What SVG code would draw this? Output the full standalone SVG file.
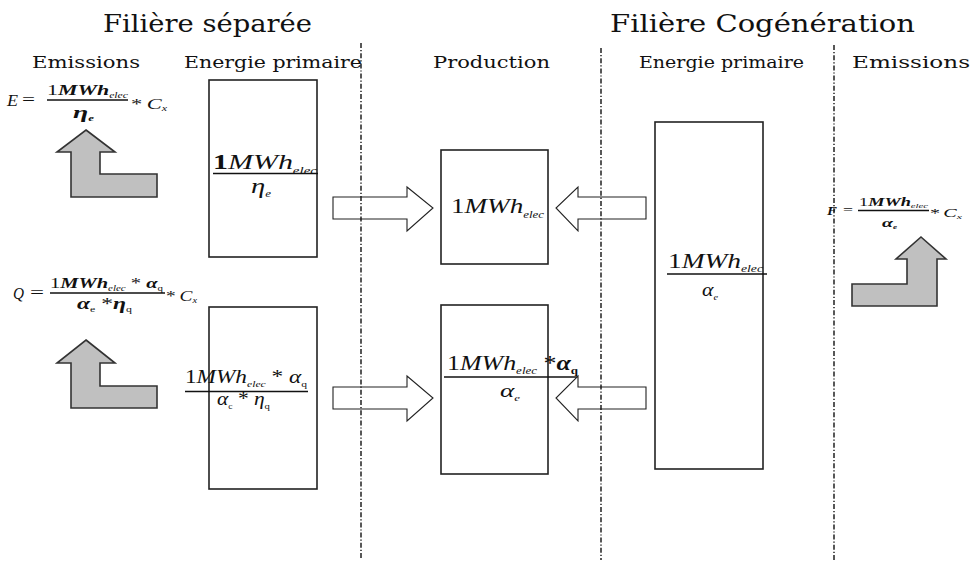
<svg xmlns="http://www.w3.org/2000/svg" width="974" height="563" viewBox="0 0 974 563">
  <style>
    .title { font-family: "DejaVu Serif", "Liberation Serif", serif; font-size: 25px; fill: #111; }
    .head { font-family: "DejaVu Serif", "Liberation Serif", serif; font-size: 17px; fill: #111; }
    .m { font-family: "Liberation Serif", "Times New Roman", serif; fill: #111; }
    .i { font-style: italic; }
    .b { font-weight: bold; }
    .box { fill: #fff; stroke: #222; stroke-width: 1.6; }
    .bar { stroke: #111; stroke-width: 1.3; }
    .sep { stroke: #111; stroke-width: 1.4; stroke-dasharray: 5 2 1.2 2; fill: none; }
    .flow { fill: #fff; stroke: #222; stroke-width: 1.1; stroke-linejoin: miter; }
    .emit { fill: #c0c0c0; stroke: #333; stroke-width: 1.6; }
  </style>

  <!-- column headings -->
  <g id="headings">
    <text class="title" x="103" y="32" textLength="209" lengthAdjust="spacingAndGlyphs">Filière séparée</text>
    <text class="title" x="610" y="32" textLength="305" lengthAdjust="spacingAndGlyphs">Filière Cogénération</text>
    <text class="head" x="32" y="68" textLength="108" lengthAdjust="spacingAndGlyphs">Emissions</text>
    <text class="head" x="184" y="68" textLength="178" lengthAdjust="spacingAndGlyphs">Energie primaire</text>
    <text class="head" x="433" y="68" textLength="117" lengthAdjust="spacingAndGlyphs">Production</text>
    <text class="head" x="639" y="68" textLength="165" lengthAdjust="spacingAndGlyphs">Energie primaire</text>
    <text class="head" x="852" y="68" textLength="118" lengthAdjust="spacingAndGlyphs">Emissions</text>
  </g>

  <!-- separated route: electricity emissions -->
  <g id="emission-E">
    <text class="m i" x="7" y="106" font-size="16" textLength="11" lengthAdjust="spacingAndGlyphs">E</text>
    <text class="m" x="22" y="105" font-size="16" textLength="13" lengthAdjust="spacingAndGlyphs">=</text>
    <text class="m" x="47" y="95" font-size="15" textLength="81" lengthAdjust="spacingAndGlyphs">1<tspan class="i b">MWh</tspan><tspan class="i" font-size="8" dy="3">elec</tspan></text>
    <line class="bar" x1="47" y1="100" x2="128" y2="100"/>
    <text class="m" x="131" y="109" font-size="15" textLength="36" lengthAdjust="spacingAndGlyphs">*<tspan class="i" dx="3">C</tspan><tspan class="i" font-size="8" dy="2">x</tspan></text>
    <text class="m i b" x="73" y="118" font-size="17" textLength="21" lengthAdjust="spacingAndGlyphs">η<tspan font-size="8" dy="3">e</tspan></text>
    <path class="emit" d="M86,130 L115,152 H100 V174 H157 V197 H71 V152 H57 Z"/>
  </g>

  <!-- separated route: heat emissions -->
  <g id="emission-Q">
    <text class="m i" x="13" y="299" font-size="16" textLength="11" lengthAdjust="spacingAndGlyphs">Q</text>
    <text class="m" x="30" y="298" font-size="16" textLength="14" lengthAdjust="spacingAndGlyphs">=</text>
    <text class="m" x="50" y="288" font-size="15" textLength="113" lengthAdjust="spacingAndGlyphs">1<tspan class="i b">MWh</tspan><tspan class="i" font-size="8" dy="3">elec</tspan><tspan dy="-3"> * </tspan><tspan class="i b">α</tspan><tspan font-size="8" dy="3">q</tspan></text>
    <line class="bar" x1="50" y1="293" x2="165" y2="293"/>
    <text class="m" x="166" y="301" font-size="15" textLength="31" lengthAdjust="spacingAndGlyphs">*<tspan class="i" dx="3">C</tspan><tspan class="i" font-size="8" dy="2">x</tspan></text>
    <text class="m" x="77" y="309" font-size="16" textLength="55" lengthAdjust="spacingAndGlyphs"><tspan class="i b">α</tspan><tspan font-size="8" dy="3">e</tspan><tspan dy="-3"> *</tspan><tspan class="i b">η</tspan><tspan font-size="8" dy="3">q</tspan></text>
    <path class="emit" d="M86,340 L115,363 H100 V386 H157 V408 H71 V363 H57 Z"/>
  </g>

  <!-- separated route: primary energy for electricity -->
  <g id="primary-elec">
    <rect class="box" x="209" y="80" width="108" height="177"/>
    <text class="m" x="213" y="169" font-size="22" textLength="104" lengthAdjust="spacingAndGlyphs"><tspan class="b">1</tspan><tspan class="i">MWh</tspan><tspan class="i" font-size="11" dy="5">elec</tspan></text>
    <line class="bar" x1="213" y1="173.5" x2="318" y2="173.5"/>
    <text class="m i" x="251" y="193" font-size="22" textLength="20" lengthAdjust="spacingAndGlyphs">η<tspan font-size="10" dy="4">e</tspan></text>
  </g>

  <!-- separated route: primary energy for heat -->
  <g id="primary-heat">
    <rect class="box" x="209" y="307" width="108" height="182"/>
    <text class="m" x="185" y="383" font-size="18" textLength="122" lengthAdjust="spacingAndGlyphs">1<tspan class="i">MWh</tspan><tspan class="i" font-size="9" dy="4">elec</tspan><tspan dy="-4"> * </tspan><tspan class="i">α</tspan><tspan font-size="9" dy="4">q</tspan></text>
    <line class="bar" x1="185" y1="391.5" x2="308" y2="391.5"/>
    <text class="m" x="217" y="405" font-size="18" textLength="53" lengthAdjust="spacingAndGlyphs"><tspan class="i">α</tspan><tspan font-size="8" dy="4">c</tspan><tspan dy="-4"> * </tspan><tspan class="i">η</tspan><tspan font-size="9" dy="4">q</tspan></text>
  </g>

  <!-- production: electricity -->
  <g id="production-elec">
    <rect class="box" x="441" y="150" width="107" height="114"/>
    <text class="m" x="451" y="213" font-size="21" textLength="93" lengthAdjust="spacingAndGlyphs">1<tspan class="i">MWh</tspan><tspan class="i" font-size="10" dy="5">elec</tspan></text>
  </g>

  <!-- production: heat -->
  <g id="production-heat">
    <rect class="box" x="441" y="305" width="107" height="169"/>
    <text class="m" x="447" y="370" font-size="20" textLength="131" lengthAdjust="spacingAndGlyphs">1<tspan class="i">MWh</tspan><tspan class="i" font-size="10" dy="4">elec</tspan><tspan dy="-4"> *</tspan><tspan class="i b">α</tspan><tspan class="b" font-size="10" dy="4">q</tspan></text>
    <line class="bar" x1="444" y1="377" x2="578" y2="377"/>
    <text class="m i" x="500" y="397" font-size="19" textLength="20" lengthAdjust="spacingAndGlyphs">α<tspan font-size="9" dy="4">e</tspan></text>
  </g>

  <!-- cogeneration: primary energy -->
  <g id="primary-cogen">
    <rect class="box" x="655" y="122" width="108" height="347"/>
    <text class="m" x="668" y="268" font-size="20" textLength="95" lengthAdjust="spacingAndGlyphs">1<tspan class="i">MWh</tspan><tspan class="i" font-size="10" dy="4">elec</tspan></text>
    <line class="bar" x1="667" y1="274" x2="767" y2="274"/>
    <text class="m i" x="702" y="296" font-size="19" textLength="16" lengthAdjust="spacingAndGlyphs">α<tspan font-size="9" dy="4">e</tspan></text>
  </g>

  <!-- cogeneration: emissions -->
  <g id="emission-F">
    <text class="m i b" x="827" y="215" font-size="13" textLength="10" lengthAdjust="spacingAndGlyphs">F</text>
    <text class="m" x="843" y="214" font-size="13" textLength="10" lengthAdjust="spacingAndGlyphs">=</text>
    <text class="m" x="859" y="206" font-size="12" textLength="69" lengthAdjust="spacingAndGlyphs">1<tspan class="i b">MWh</tspan><tspan class="i" font-size="7" dy="2">elec</tspan></text>
    <line class="bar" x1="858" y1="210.5" x2="929" y2="210.5" stroke-width="1"/>
    <text class="m" x="930" y="217" font-size="12" textLength="32" lengthAdjust="spacingAndGlyphs">*<tspan class="i" dx="2">C</tspan><tspan class="i" font-size="7" dy="2">x</tspan></text>
    <text class="m i b" x="882" y="227" font-size="13" textLength="15" lengthAdjust="spacingAndGlyphs">α<tspan font-size="6" dy="2">e</tspan></text>
    <path class="emit" d="M921,237 L946,259 H937 V306 H852 V284 H907 V259 H896 Z"/>
  </g>

  <!-- energy flows into production -->
  <g id="connectors">
    <path class="flow" d="M333,197 H407 V187 L433,208 L407,231 V219 H333 Z"/>
    <path class="flow" d="M646,197 H578 V187 L556,208 L578,231 V219 H646 Z"/>
    <path class="flow" d="M333,387 H407 V376 L433,398 L407,421 V409 H333 Z"/>
    <path class="flow" d="M646,387 H578 V376 L556,398 L578,421 V409 H646 Z"/>
  </g>

  <!-- column separators -->
  <g id="separators">
    <line class="sep" x1="361" y1="43" x2="361" y2="558"/>
    <line class="sep" x1="601" y1="48" x2="601" y2="560"/>
    <line class="sep" x1="834" y1="45" x2="834" y2="560"/>
  </g>
</svg>
